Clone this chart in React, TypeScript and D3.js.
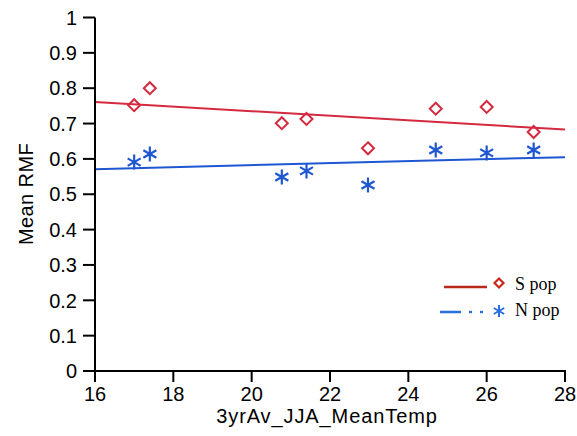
import React from "react";
import * as d3 from "d3";

const sTemp = [17.0, 17.4, 20.77, 21.4, 22.97, 24.7, 26.0, 27.2];
const sRMF = [0.752, 0.8, 0.701, 0.713, 0.63, 0.742, 0.747, 0.676];
const nTemp = [17.0, 17.4, 20.77, 21.4, 22.97, 24.7, 26.0, 27.2];
const nRMF = [0.591, 0.614, 0.549, 0.566, 0.526, 0.625, 0.617, 0.625];
const sFit = [0.761, 0.683];
const nFit = [0.571, 0.605];
const xTicks = [16, 18, 20, 22, 24, 26, 28];
const yTicks = [0, 0.1, 0.2, 0.3, 0.4, 0.5, 0.6, 0.7, 0.8, 0.9, 1];
const seriesNames = ["S pop", "N pop"];

const RED = "#d42a3f";
const BLUE = "#1f56d2";

export default function App() {
  const x = d3.scaleLinear().domain([16, 28]).range([95, 565]);
  const y = d3.scaleLinear().domain([0, 1]).range([371, 17.5]);
  const font = "'Liberation Sans', Arial, sans-serif";
  const serif = "'Liberation Serif', 'Times New Roman', serif";
  const diamond = (cx: number, cy: number, r: number) =>
    `M${cx},${cy - r}L${cx + r},${cy}L${cx},${cy + r}L${cx - r},${cy}Z`;
  const star = (cx: number, cy: number, r: number) => {
    const arms = [90, 30, -30].map((a) => {
      const rad = (a * Math.PI) / 180;
      const dx = r * Math.cos(rad);
      const dy = r * Math.sin(rad);
      return `M${cx - dx},${cy - dy}L${cx + dx},${cy + dy}`;
    });
    return arms.join("");
  };
  return (
    <svg width={577} height={436} style={{ position: "absolute", left: 0, top: 0 }}>
      <rect width={577} height={436} fill="#fff" />
      {/* fit lines */}
      <line x1={x(16)} x2={x(28)} y1={y(sFit[0])} y2={y(sFit[1])} stroke={RED} strokeWidth={2} />
      <line x1={x(16)} x2={x(28)} y1={y(nFit[0])} y2={y(nFit[1])} stroke={BLUE} strokeWidth={2} />
      {sTemp.map((t, i) => (
        <path key={"s" + i} d={diamond(x(t), y(sRMF[i]), 6)} fill="none" stroke={RED} strokeWidth={2} />
      ))}
      {nTemp.map((t, i) => (
        <path key={"n" + i} d={star(x(t), y(nRMF[i]), 7.5)} fill="none" stroke={BLUE} strokeWidth={2.2} />
      ))}
      {/* axes */}
      <line x1={95} x2={95} y1={y(1)} y2={y(0) + 1} stroke="#000" strokeWidth={2} />
      <line x1={94} x2={566} y1={y(0)} y2={y(0)} stroke="#000" strokeWidth={2} />
      {yTicks.map((v) => (
        <g key={"y" + v}>
          <line x1={83} x2={95} y1={y(v)} y2={y(v)} stroke="#000" strokeWidth={2} />
          <text x={77} y={y(v)} dy="0.36em" textAnchor="end" fontFamily={font} fontSize={20}>
            {d3.format("~g")(v)}
          </text>
        </g>
      ))}
      {xTicks.map((v) => (
        <g key={"x" + v}>
          <line x1={x(v)} x2={x(v)} y1={y(0)} y2={y(0) + 11} stroke="#000" strokeWidth={2} />
          <text x={x(v)} y={401} textAnchor="middle" fontFamily={font} fontSize={20}>
            {v}
          </text>
        </g>
      ))}
      <text x={327} y={423} textAnchor="middle" fontFamily={font} fontSize={20} letterSpacing={0.9}>
        3yrAv_JJA_MeanTemp
      </text>
      <text
        transform="translate(33,194) rotate(-90)"
        textAnchor="middle"
        fontFamily={font}
        fontSize={20}
        letterSpacing={0.4}
      >
        Mean RMF
      </text>
      {/* legend */}
      <line x1={444} x2={487} y1={287} y2={287} stroke="#b8281c" strokeWidth={2.5} />
      <path d={diamond(499, 283, 4.5)} fill="none" stroke="#c8281c" strokeWidth={2.2} />
      <text x={515} y={290} fontFamily={serif} fontSize={18}>
        {seriesNames[0]}
      </text>
      <line x1={440} x2={461} y1={312} y2={312} stroke="#2a6fe0" strokeWidth={2.5} />
      <line x1={469} x2={472} y1={312} y2={312} stroke="#2a6fe0" strokeWidth={2.5} />
      <line x1={480} x2={483} y1={312} y2={312} stroke="#2a6fe0" strokeWidth={2.5} />
      <path d={star(499, 311, 6)} fill="none" stroke="#2a6fe0" strokeWidth={2} />
      <text x={515} y={316} fontFamily={serif} fontSize={18}>
        {seriesNames[1]}
      </text>
    </svg>
  );
}
